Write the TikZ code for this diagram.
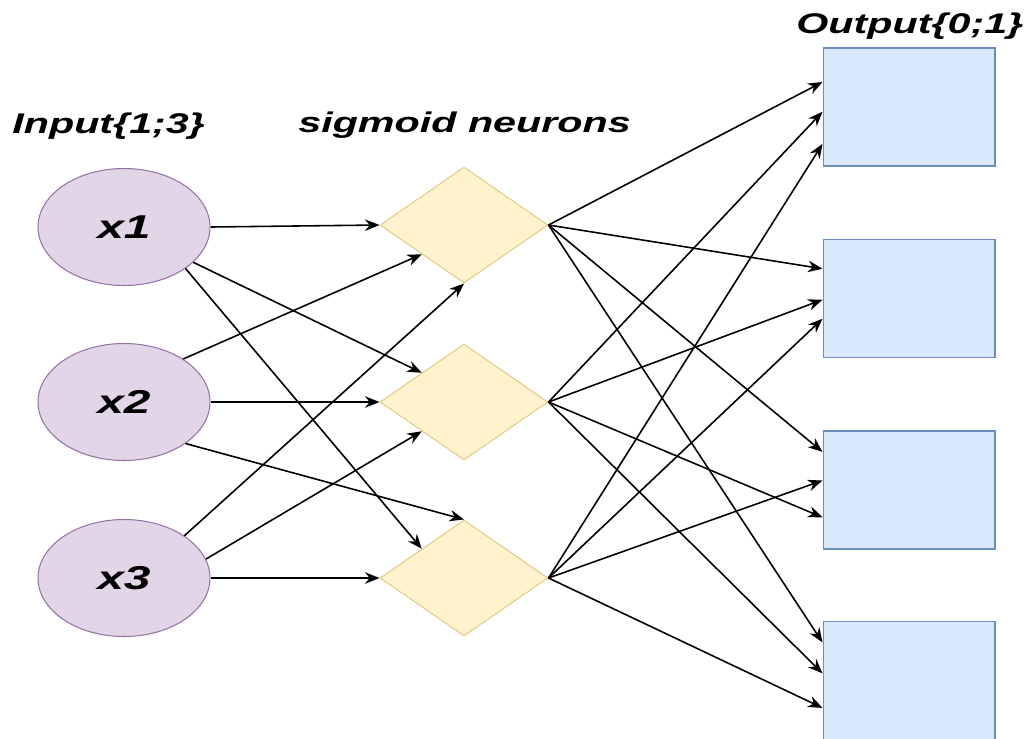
\documentclass[tikz,border=0pt]{standalone}
\usepackage{fontspec}
\setmainfont{Liberation Sans}
\usepackage{graphicx}
\usepackage{tikz}
\usetikzlibrary{arrows.meta,shapes.geometric,calc}
\usepackage{xcolor}
\definecolor{infill}{HTML}{E1D5E7}
\definecolor{inline}{HTML}{9673A6}
\definecolor{sigfill}{HTML}{FFF2CC}
\definecolor{sigline}{HTML}{D6B656}
\definecolor{outfill}{HTML}{DAE8FC}
\definecolor{outline}{HTML}{6C8EBF}
\newcommand{\wide}[1]{\scalebox{1.45}[1]{#1}}

\begin{document}
\begin{tikzpicture}[
  x=0.02cm, y=-0.02cm,
  inunit/.style={ellipse, draw=inline, fill=infill, line width=0.6pt,
                 minimum width=3.44cm, minimum height=2.34cm, inner sep=0pt,
                 font=\fontsize{18.8}{22}\selectfont\bfseries\itshape},
  sigunit/.style={diamond, draw=sigline!70, fill=sigfill, line width=0.6pt,
                  minimum width=3.36cm, minimum height=2.32cm, inner sep=0pt},
  outunit/.style={draw=outline, fill=outfill, line width=0.6pt,
                  minimum width=3.44cm, minimum height=2.36cm, inner sep=0pt},
  heading/.style={anchor=base west, inner sep=0pt,
                  font=\fontsize{16.2}{19}\selectfont\bfseries\itshape},
  flow/.style={-{Stealth[length=2.9mm, width=2.3mm]}, line width=0.9pt},
]
  \useasboundingbox (0,0) rectangle (1033,738);

  \node[heading] (tin)  at (12,133)  {\wide{Input\{1;3\}}};
  \node[heading] (tsig) at (298,132) {\wide{sigmoid neurons}};
  \node[heading] (tout) at (796,33)  {\wide{Output\{0;1\}}};

  \node[inunit] (x1) at (124,227) {\wide{x1}};
  \node[inunit] (x2) at (124,402) {\wide{x2}};
  \node[inunit] (x3) at (124,578) {\wide{x3}};

  \node[sigunit] (s1) at (464,225) {};
  \node[sigunit] (s2) at (464,402) {};
  \node[sigunit] (s3) at (464,578) {};

  \node[outunit] (o1) at (909,107)   {};
  \node[outunit] (o2) at (909,298.5) {};
  \node[outunit] (o3) at (909,490)   {};
  \node[outunit] (o4) at (909,680.5) {};

  \draw[flow] (x1.east) -- (s1.west);
  \draw[flow] (x1.-27) -- (s2.north west);
  \draw[flow] (x1.-34) -- (s3.north west);

  \draw[flow] (x2.36) -- (s1.south west);
  \draw[flow] (x2.east) -- (s2.west);
  \draw[flow] (x2.-34) -- (s3.north);

  \draw[flow] (x3.35) -- (s1.south);
  \draw[flow] (x3.13) -- (s2.south west);
  \draw[flow] (x3.east) -- (s3.west);

  \draw[flow] (s1.east) -- ($(o1.north west)!0.29!(o1.south west)$);
  \draw[flow] (s1.east) -- ($(o2.north west)!0.25!(o2.south west)$);
  \draw[flow] (s1.east) -- ($(o3.north west)!0.18!(o3.south west)$);
  \draw[flow] (s1.east) -- ($(o4.north west)!0.18!(o4.south west)$);

  \draw[flow] (s2.east) -- ($(o1.north west)!0.54!(o1.south west)$);
  \draw[flow] (s2.east) -- ($(o2.north west)!0.51!(o2.south west)$);
  \draw[flow] (s2.east) -- ($(o3.north west)!0.73!(o3.south west)$);
  \draw[flow] (s2.east) -- ($(o4.north west)!0.44!(o4.south west)$);

  \draw[flow] (s3.east) -- ($(o1.north west)!0.81!(o1.south west)$);
  \draw[flow] (s3.east) -- ($(o2.north west)!0.67!(o2.south west)$);
  \draw[flow] (s3.east) -- ($(o3.north west)!0.42!(o3.south west)$);
  \draw[flow] (s3.east) -- ($(o4.north west)!0.73!(o4.south west)$);
\end{tikzpicture}
\end{document}
